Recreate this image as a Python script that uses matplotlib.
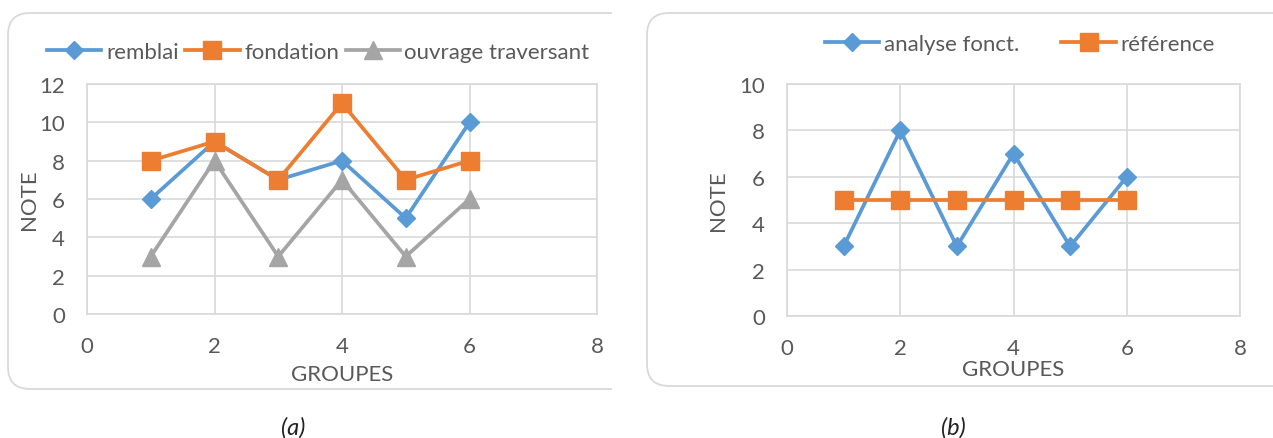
import matplotlib.pyplot as plt
import matplotlib.patches as mpatches
from matplotlib.transforms import Bbox

# ============ DATA ============
groupes = [1, 2, 3, 4, 5, 6]

# chart (a)
remblai = [6, 9, 7, 8, 5, 10]
fondation = [8, 9, 7, 11, 7, 8]
ouvrage = [3, 8, 3, 7, 3, 6]

# chart (b)
analyse = [3, 8, 3, 7, 3, 6]
reference = [5, 5, 5, 5, 5, 5]

BLUE = '#5B9BD5'
ORANGE = '#ED7D31'
GRAY = '#A5A5A5'
TXT = '#595959'
GRID = '#D9D9D9'

FS = 16      # ticks / axis labels
FS_LEG = 16  # legend text

plt.rcParams['font.family'] = ['Lato', 'DejaVu Sans']

W, H = 1273, 439
fig = plt.figure(figsize=(W / 100, H / 100), dpi=100)


def px_axes(x0, x1, y_top, y_bot):
    # pixel box -> figure fraction
    return [x0 / W, 1 - y_bot / H, (x1 - x0) / W, (y_bot - y_top) / H]


def style_axes(ax, ymax):
    ax.set_xlim(0, 8)
    ax.set_ylim(0, ymax)
    ax.set_xticks(range(0, 9, 2))
    ax.set_yticks(range(0, ymax + 1, 2))
    ax.grid(True, color=GRID, linewidth=1.2)
    ax.set_axisbelow(True)
    for s in ax.spines.values():
        s.set_color(GRID)
        s.set_linewidth(1.2)
    ax.tick_params(axis='both', length=0, labelsize=FS, labelcolor=TXT)
    ax.tick_params(axis='x', pad=16)
    ax.tick_params(axis='y', pad=16)


def rounded_box(x0, x1, y_top, y_bot, clip_x=None):
    box = mpatches.FancyBboxPatch(
        (x0 / 100, (H - y_bot) / 100), (x1 - x0) / 100, (y_bot - y_top) / 100,
        boxstyle='round,pad=0,rounding_size=0.22',
        transform=fig.dpi_scale_trans, facecolor='none',
        edgecolor=GRID, linewidth=1.3)
    fig.patches.append(box)
    if clip_x is not None:
        box.set_clip_box(Bbox([[0, 0], [clip_x, H]]))


line_kw = dict(lw=2.7)

# ============ CHART (a) ============
rounded_box(8, 640, 14, 390, clip_x=612)
ax1 = fig.add_axes(px_axes(87, 597, 85, 315))
style_axes(ax1, 12)
ax1.plot(groupes, remblai, '-D', color=BLUE, markersize=9, label='remblai', **line_kw)
ax1.plot(groupes, fondation, '-s', color=ORANGE, markersize=12.5, label='fondation', **line_kw)
ax1.plot(groupes, ouvrage, '-^', color=GRAY, markersize=12.5, label='ouvrage traversant', **line_kw)
ax1.set_xlabel('GROUPES', fontsize=FS, color=TXT, va='center')
ax1.xaxis.set_label_coords(0.5, (315 - 375) / 230)
ax1.set_ylabel('NOTE', fontsize=FS, color=TXT, va='center')
ax1.yaxis.set_label_coords((29 - 87) / 510, 0.5)
ax1.legend(loc='center left', bbox_to_anchor=(47 / W, 1 - 53 / H),
           bbox_transform=fig.transFigure, ncol=3, frameon=False,
           fontsize=FS_LEG, labelcolor=TXT, handlelength=2.45, handletextpad=0.2,
           columnspacing=0.3, borderpad=0, borderaxespad=0)

# ============ CHART (b) ============
rounded_box(647, 1320, 14, 387)
ax2 = fig.add_axes(px_axes(787, 1240, 85, 317))
style_axes(ax2, 10)
ax2.plot(groupes, analyse, '-D', color=BLUE, markersize=9, label='analyse fonct.', **line_kw)
ax2.plot(groupes, reference, '-s', color=ORANGE, markersize=12.5, label='référence', **line_kw)
ax2.set_xlabel('GROUPES', fontsize=FS, color=TXT, va='center')
ax2.xaxis.set_label_coords(0.5, (317 - 370) / 232)
ax2.set_ylabel('NOTE', fontsize=FS, color=TXT, va='center')
ax2.yaxis.set_label_coords((718 - 787) / 453, 0.5)
ax2.legend(loc='center left', bbox_to_anchor=(825 / W, 1 - 45 / H),
           bbox_transform=fig.transFigure, ncol=2, frameon=False,
           fontsize=FS_LEG, labelcolor=TXT, handlelength=2.45, handletextpad=0.2,
           columnspacing=1.9, borderpad=0, borderaxespad=0)

# captions
fig.text(293 / W, 1 - 428 / H, '(a)', fontsize=17, style='italic', color='#222222',
         ha='center', va='center')
fig.text(953 / W, 1 - 428 / H, '(b)', fontsize=17, style='italic', color='#222222',
         ha='center', va='center')

fig.savefig('out.png', dpi=100)
